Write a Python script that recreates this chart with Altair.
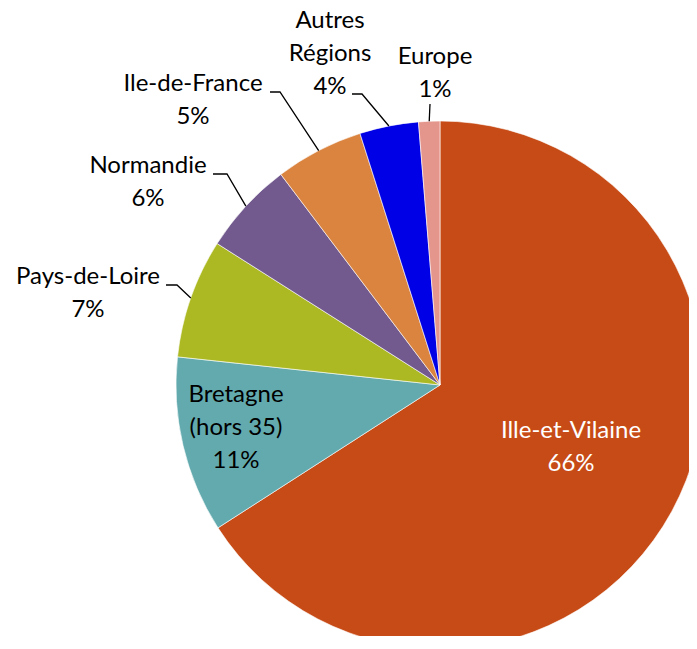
import math
import altair as alt
import pandas as pd

# ---- data ----
regions = ["Ille-et-Vilaine", "Bretagne (hors 35)", "Pays-de-Loire", "Normandie",
           "Ile-de-France", "Autres Régions", "Europe"]
shares = [65.9, 10.8, 7.3, 5.7, 5.4, 3.6, 1.3]
pct_labels = ["66%", "11%", "7%", "6%", "5%", "4%", "1%"]
name_lines = ["Ille-et-Vilaine", "Bretagne\n(hors 35)", "Pays-de-Loire", "Normandie",
              "Ile-de-France", "Autres\nRégions", "Europe"]
colors = ["#C74B16", "#62AAAE", "#ACB923", "#725A8F", "#DA8440", "#0000E6", "#E5968C"]

# ---- layout (pixels; page coordinates, converted to chart coordinates below) ----
OFF = 8
CX, CY, R = 440 - OFF, 385 - OFF, 264
label_pos = [(571, 431), (236, 395), (88, 277), (148, 166), (193, 84), (330, 21), (435, 57)]
label_color = ["white", "black", "black", "black", "black", "black", "black"]
# leader elbows (elbow point, end point) for outside labels; None = inside label
elbows = [None, None,
          ((177, 285), (166, 285)),
          ((227, 174), (213, 174)),
          ((280, 92), (270, 92)),
          ((362, 94), (352, 94)),
          ((430, 104), (430, 104))]

pie_df = pd.DataFrame({"region": regions, "share": shares, "idx": list(range(len(regions)))})

total = sum(shares)
txt_rows, line_rows = [], []
cum = 0.0
for i, (r, s) in enumerate(zip(regions, shares)):
    mid = (cum + s / 2) / total * 2 * math.pi
    cum += s
    lx, ly = label_pos[i]
    txt_rows.append({"region": r, "text": name_lines[i] + "\n" + pct_labels[i],
                     "x": lx - OFF, "y": ly - OFF, "col": label_color[i]})
    if elbows[i] is not None:
        ax = CX + R * math.sin(mid)
        ay = CY - R * math.cos(mid)
        (ex, ey), (fx, fy) = elbows[i]
        for k, (px, py) in enumerate([(ax, ay), (ex - OFF, ey - OFF), (fx - OFF, fy - OFF)]):
            line_rows.append({"region": r, "k": k, "x": px, "y": py})

txt_df = pd.DataFrame(txt_rows)
line_df = pd.DataFrame(line_rows)

pie = alt.Chart(pie_df).mark_arc(radius=R, stroke="white", strokeWidth=0.6).encode(
    theta=alt.Theta("share:Q", stack=True),
    order=alt.Order("idx:Q"),
    color=alt.Color("region:N", scale=alt.Scale(domain=regions, range=colors), legend=None),
    x=alt.value(CX),
    y=alt.value(CY),
)

leaders = alt.Chart(line_df).mark_line(color="black", strokeWidth=1.3).encode(
    x=alt.X("x:Q", scale=None, axis=None),
    y=alt.Y("y:Q", scale=None, axis=None),
    detail="region:N",
    order="k:Q",
)

labels = alt.Chart(txt_df).mark_text(
    font="Lato", fontSize=24, lineBreak="\n", lineHeight=33, align="center", baseline="middle"
).encode(
    x=alt.X("x:Q", scale=None, axis=None),
    y=alt.Y("y:Q", scale=None, axis=None),
    text="text:N",
    color=alt.Color("col:N", scale=None),
)

chart = alt.layer(pie, leaders, labels).properties(
    width=681, height=628, padding=0,
    autosize=alt.AutoSizeParams(type="none"),
).configure_view(stroke=None)

chart.save("out.html", embed_options={"renderer": "svg", "actions": False})
